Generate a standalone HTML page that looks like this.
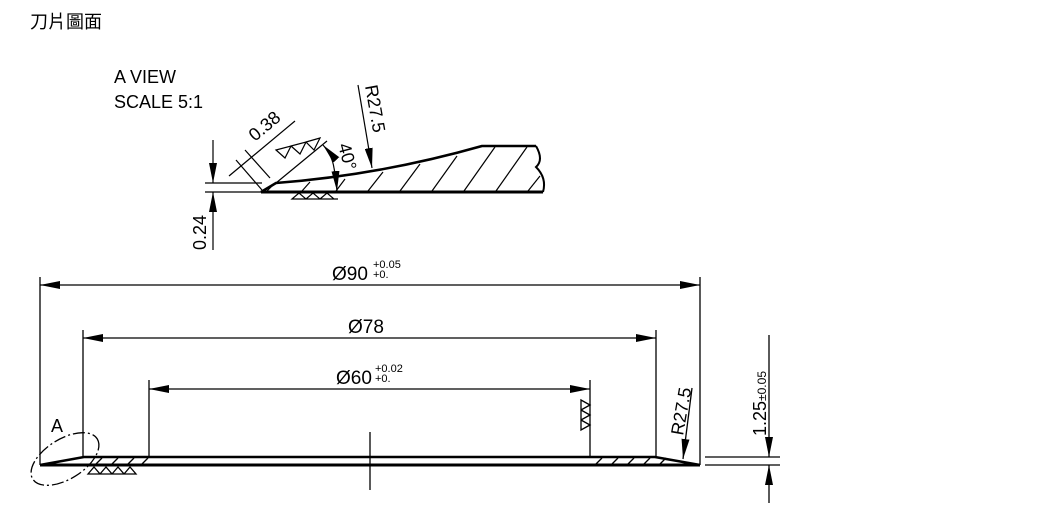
<!DOCTYPE html>
<html><head><meta charset="utf-8"><style>
body{margin:0;background:#fff;width:1051px;height:507px;overflow:hidden}
svg{display:block}
text{font-family:"Liberation Sans","Noto Sans CJK TC",sans-serif;fill:#000}
</style></head><body>
<svg width="1051" height="507" viewBox="0 0 1051 507" xmlns="http://www.w3.org/2000/svg">
<defs>
<marker id="ar" viewBox="0 0 20 8" refX="20" refY="4" markerWidth="20" markerHeight="8" markerUnits="userSpaceOnUse" orient="auto"><path d="M0,0 L20,4 L0,8 z" fill="#000"/></marker>
</defs>
<text x="30" y="28" font-size="18">刀片圖面</text>
<text x="114" y="83" font-size="18">A VIEW</text>
<text x="114" y="108" font-size="18">SCALE 5:1</text>

<g stroke="#000" fill="none">
<path d="M261,192 L543,192" stroke-width="3"/>
<path d="M261,192 L276,183 Q380,175 482,146 L536,146" stroke-width="2.5"/>
<path d="M536,146 Q544,160 536,167 Q547,178 543,192" stroke-width="2"/>
<g stroke-width="1.2">
<line x1="267" y1="191" x2="274" y2="184"/>
<line x1="302" y1="191" x2="310" y2="182"/>
<line x1="336" y1="191" x2="345" y2="179"/>
<line x1="368" y1="191" x2="383" y2="172"/>
<line x1="400" y1="191" x2="420" y2="164"/>
<line x1="432" y1="191" x2="457" y2="156"/>
<line x1="464" y1="191" x2="495" y2="147"/>
<line x1="496" y1="191" x2="527" y2="147"/>
<line x1="528" y1="191" x2="540" y2="176"/>
</g>
<g stroke-width="1.2">
<line x1="205" y1="183" x2="262" y2="183"/>
<line x1="205" y1="192" x2="262" y2="192"/>
<line x1="213" y1="140" x2="213" y2="183" marker-end="url(#ar)"/>
<line x1="213" y1="250" x2="213" y2="192" marker-end="url(#ar)"/>
<line x1="229" y1="176" x2="295" y2="121"/>
<line x1="236" y1="160" x2="262" y2="190"/>
<line x1="245" y1="150" x2="270" y2="178"/>
<line x1="276" y1="183" x2="327" y2="141"/>
<path d="M276,150 L291,146 L285,158 z M291,146 L306,142 L300,154 z M306,142 L320,138 L314,150 z"/>
<path d="M292,199 L299,193 L306,199 z M306,199 L313,193 L320,199 z M320,199 L327,193 L334,199 z M292,199 L338,199"/>
<path d="M334,168 Q332,155 323,145" marker-end="url(#ar)"/>
<path d="M334,168 Q336,178 337,191" marker-end="url(#ar)"/>
<line x1="358" y1="85" x2="372" y2="168" marker-end="url(#ar)"/>
</g>
</g>
<text transform="translate(255,142) rotate(-40)" font-size="18">0.38</text>
<text transform="translate(338,145) rotate(75)" font-size="18">40°</text>
<text transform="translate(365,86) rotate(80)" font-size="18">R27.5</text>
<text transform="translate(206,250) rotate(-90)" font-size="18">0.24</text>

<g stroke="#000" fill="none">
<path d="M40,465 L700,465" stroke-width="3"/>
<path d="M40,465 L84,457 L655,457 L700,465" stroke-width="2.5"/>
<g stroke-width="1.3">
<line x1="40" y1="277" x2="40" y2="465"/>
<line x1="700" y1="277" x2="700" y2="465"/>
<line x1="83" y1="330" x2="83" y2="457"/>
<line x1="656" y1="330" x2="656" y2="457"/>
<line x1="149" y1="380" x2="149" y2="457"/>
<line x1="590" y1="380" x2="590" y2="457"/>
<line x1="370" y1="432" x2="370" y2="490"/>
<line x1="370" y1="285" x2="40" y2="285" marker-end="url(#ar)"/>
<line x1="370" y1="285" x2="700" y2="285" marker-end="url(#ar)"/>
<line x1="370" y1="338" x2="83" y2="338" marker-end="url(#ar)"/>
<line x1="370" y1="338" x2="656" y2="338" marker-end="url(#ar)"/>
<line x1="370" y1="389" x2="149" y2="389" marker-end="url(#ar)"/>
<line x1="370" y1="389" x2="590" y2="389" marker-end="url(#ar)"/>
<line x1="96" y1="464" x2="102" y2="458"/><line x1="112" y1="464" x2="118" y2="458"/><line x1="128" y1="464" x2="134" y2="458"/><line x1="142" y1="464" x2="148" y2="458"/>
<line x1="596" y1="464" x2="602" y2="458"/><line x1="612" y1="464" x2="618" y2="458"/><line x1="628" y1="464" x2="634" y2="458"/><line x1="644" y1="464" x2="650" y2="458"/><line x1="660" y1="464" x2="666" y2="458"/>
<path d="M88,474 L94,467 L100,474 z M100,474 L106,467 L112,474 z M112,474 L118,467 L124,474 z M124,474 L130,467 L136,474 z M88,474 L136,474"/>
<path d="M581,400 L590,405 L581,410 z M581,410 L590,415 L581,420 z M581,420 L590,425 L581,430 z"/>
<line x1="692" y1="388" x2="683" y2="459" marker-end="url(#ar)"/>
<line x1="705" y1="457" x2="780" y2="457"/>
<line x1="705" y1="465" x2="780" y2="465"/>
<line x1="769" y1="335" x2="769" y2="457" marker-end="url(#ar)"/>
<line x1="769" y1="503" x2="769" y2="465" marker-end="url(#ar)"/>
</g>
<ellipse cx="65" cy="459" rx="38" ry="20" transform="rotate(-32 65 459)" stroke-width="1.3" stroke-dasharray="12,3,2,3"/>
</g>
<text x="332" y="280" font-size="19">Ø90</text>
<text x="373" y="268" font-size="11">+0.05</text>
<text x="373" y="278" font-size="11">+0.</text>
<text x="348" y="333" font-size="19">Ø78</text>
<text x="336" y="384" font-size="19">Ø60</text>
<text x="375" y="372" font-size="11">+0.02</text>
<text x="375" y="382" font-size="11">+0.</text>
<text x="51" y="432" font-size="18">A</text>
<text transform="translate(683,436) rotate(-80)" font-size="18">R27.5</text>
<text transform="translate(766,436) rotate(-90)" font-size="18">1.25<tspan font-size="12">±0.05</tspan></text>
</svg>
</body></html>
